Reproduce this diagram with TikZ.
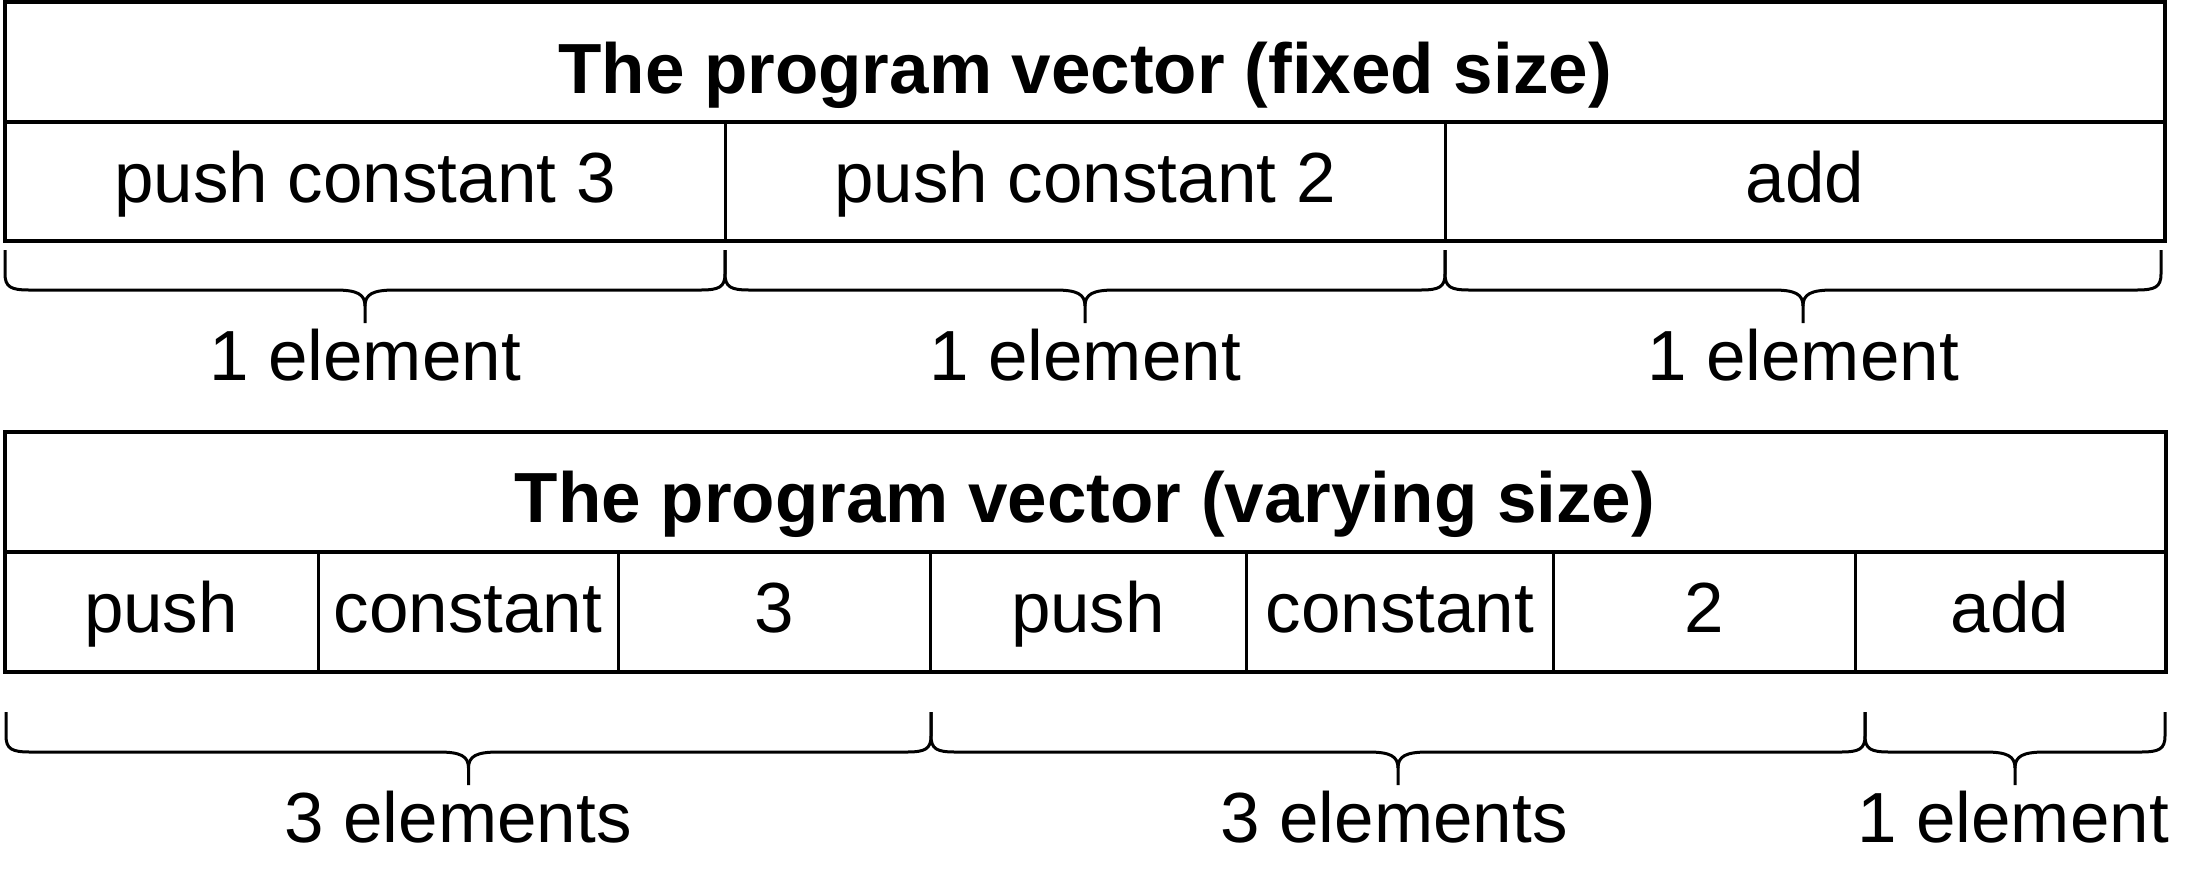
\documentclass[tikz,border=0pt]{standalone}
\usepackage{fontspec}
\setmainfont{Liberation Sans}
\newcommand\drawbrace[5]{%
  \pgfmathsetmacro\bxm{(#1+#2)/2}%
  \draw[bracepath] (#1,#3) -- (#1,#4-16) .. controls (#1,#4-3) and (#1+6,#4) .. (#1+24,#4)
     -- (\bxm-30,#4) .. controls (\bxm-8,#4) and (\bxm,#4+4) .. (\bxm,#4+16) -- (\bxm,#5);
  \draw[bracepath] (\bxm,#4+16) .. controls (\bxm,#4+4) and (\bxm+8,#4) .. (\bxm+30,#4)
     -- (#2-24,#4) .. controls (#2-6,#4) and (#2,#4-3) .. (#2,#4-16) -- (#2,#3);
}
\begin{document}
\begin{tikzpicture}[x=1pt,y=-1pt,
  lbl/.style={inner sep=0pt, anchor=base, font=\fontsize{71}{80}\selectfont},
  hdr/.style={inner sep=0pt, anchor=base, font=\fontsize{71}{80}\selectfont\bfseries},
  outer/.style={line width=4.5pt},
  hline/.style={line width=4pt},
  divider/.style={line width=3pt},
  bracepath/.style={line width=3pt, line join=round, line cap=butt}]
\useasboundingbox (0,0) rectangle (2192,884);

% ---------- top: fixed size ----------
\draw[hline] (5,122) -- (2165,122);
\draw[divider] (725,122) -- (725,241);
\draw[divider] (1445,122) -- (1445,241);
\draw[outer] (5,2) rectangle (2165,241);

\node[hdr] (t1) at (1085,93) {The program vector (fixed size)};
\node[lbl] (f1) at (365,202) {push constant 3};
\node[lbl] (f2) at (1085,202) {push constant 2};
\node[lbl] (f3) at (1805,202) {add};

\drawbrace{5}{725}{250}{290}{323}
\drawbrace{725}{1445}{250}{290}{323}
\drawbrace{1445}{2161}{250}{290}{323}

\node[lbl] (fe1) at (365,380) {1 element};
\node[lbl] (fe2) at (1085,380) {1 element};
\node[lbl] (fe3) at (1803,380) {1 element};

% ---------- bottom: varying size ----------
\draw[hline] (5,552) -- (2166,552);
\foreach \x in {318,618,930,1246,1553,1855}
  \draw[divider] (\x,552) -- (\x,672);
\draw[outer] (5,432) rectangle (2166,672);

\node[hdr] (t2) at (1085,522) {The program vector (varying size)};
\node[lbl] (v1) at (161,632) {push};
\node[lbl] (v2) at (468,632) {constant};
\node[lbl] (v3) at (774,632) {3};
\node[lbl] (v4) at (1088,632) {push};
\node[lbl] (v5) at (1400,632) {constant};
\node[lbl] (v6) at (1704,632) {2};
\node[lbl] (v7) at (2010,632) {add};

\drawbrace{6}{931}{712}{752}{785}
\drawbrace{931}{1865}{712}{752}{785}
\drawbrace{1865}{2165}{712}{752}{785}

\node[lbl] (ve1) at (458,842) {3 elements};
\node[lbl] (ve2) at (1394,842) {3 elements};
\node[lbl] (ve3) at (2013,842) {1 element};
\end{tikzpicture}
\end{document}
